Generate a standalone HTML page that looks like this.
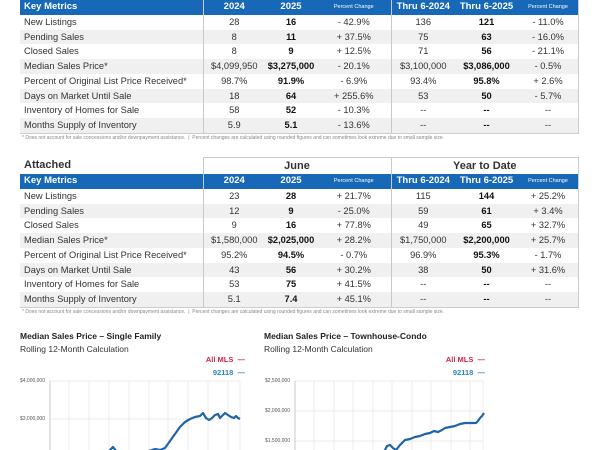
<!DOCTYPE html>
<html><head><style>
body{margin:0;width:600px;height:450px;background:#fff;font-family:"Liberation Sans",sans-serif;position:relative;overflow:hidden;color:#333}
table{position:absolute;left:20px;border-collapse:collapse;table-layout:fixed;width:558px}
td{height:14.7px;padding:0;font-size:9.3px;text-align:center;white-space:nowrap;line-height:14.7px}
td:first-child{text-align:left;padding-left:4px}
tr.h td{background:#1768b6;color:#fff;font-weight:bold;font-size:9.5px;height:15px}
tr.h td.p{font-size:5.5px;font-weight:normal}
tr.s td{background:#f0f0f0}
td.d{border-left:1px solid #c8c8c8}
td.b{font-weight:bold;color:#111}
tr.t td{font-weight:bold;font-size:11px;color:#333;height:16px}
.fn{position:absolute;left:22px;font-size:5px;color:#888;white-space:nowrap}
.bx{position:absolute;border-right:1px solid #ccc;border-bottom:1px solid #ccc}
.ct{position:absolute;font-size:8.5px;font-weight:bold;color:#222;white-space:nowrap}
.cs{position:absolute;font-size:8.5px;color:#333;white-space:nowrap}
.lg{position:absolute;font-size:7.5px;font-weight:bold;text-align:right;white-space:nowrap}
.yl{position:absolute;font-size:5px;color:#555;text-align:right;width:50px}
</style></head><body>
<table style="top:0">
<colgroup><col style="width:183px"><col style="width:62px"><col style="width:52px"><col style="width:74px"><col style="width:64px"><col style="width:63px"><col style="width:60px"></colgroup>
<tr class="h"><td>Key Metrics</td><td class="d">2024</td><td>2025</td><td class="p">Percent Change</td><td class="d">Thru 6-2024</td><td>Thru 6-2025</td><td class="p">Percent Change</td></tr>
<tr><td>New Listings</td><td class="d">28</td><td class="b">16</td><td>- 42.9%</td><td class="d">136</td><td class="b">121</td><td>- 11.0%</td></tr>
<tr class="s"><td>Pending Sales</td><td class="d">8</td><td class="b">11</td><td>+ 37.5%</td><td class="d">75</td><td class="b">63</td><td>- 16.0%</td></tr>
<tr><td>Closed Sales</td><td class="d">8</td><td class="b">9</td><td>+ 12.5%</td><td class="d">71</td><td class="b">56</td><td>- 21.1%</td></tr>
<tr class="s"><td>Median Sales Price*</td><td class="d">$4,099,950</td><td class="b">$3,275,000</td><td>- 20.1%</td><td class="d">$3,100,000</td><td class="b">$3,086,000</td><td>- 0.5%</td></tr>
<tr><td>Percent of Original List Price Received*</td><td class="d">98.7%</td><td class="b">91.9%</td><td>- 6.9%</td><td class="d">93.4%</td><td class="b">95.8%</td><td>+ 2.6%</td></tr>
<tr class="s"><td>Days on Market Until Sale</td><td class="d">18</td><td class="b">64</td><td>+ 255.6%</td><td class="d">53</td><td class="b">50</td><td>- 5.7%</td></tr>
<tr><td>Inventory of Homes for Sale</td><td class="d">58</td><td class="b">52</td><td>- 10.3%</td><td class="d">--</td><td class="b">--</td><td>--</td></tr>
<tr class="s"><td>Months Supply of Inventory</td><td class="d">5.9</td><td class="b">5.1</td><td>- 13.6%</td><td class="d">--</td><td class="b">--</td><td>--</td></tr>
</table>
<div class="bx" style="left:20px;top:0;width:558px;height:133px;border-left:none"></div>
<div class="fn" style="top:135px">* Does not account for sale concessions and/or downpayment assistance. &nbsp;|&nbsp; Percent changes are calculated using rounded figures and can sometimes look extreme due to small sample size.</div>

<table style="top:157px">
<colgroup><col style="width:183px"><col style="width:62px"><col style="width:52px"><col style="width:74px"><col style="width:64px"><col style="width:63px"><col style="width:60px"></colgroup>
<tr class="t"><td>Attached</td><td class="d" colspan="3" style="border-top:1px solid #ccc">June</td><td class="d" colspan="3" style="border-top:1px solid #ccc">Year to Date</td></tr>
<tr class="h"><td>Key Metrics</td><td class="d">2024</td><td>2025</td><td class="p">Percent Change</td><td class="d">Thru 6-2024</td><td>Thru 6-2025</td><td class="p">Percent Change</td></tr>
<tr><td>New Listings</td><td class="d">23</td><td class="b">28</td><td>+ 21.7%</td><td class="d">115</td><td class="b">144</td><td>+ 25.2%</td></tr>
<tr class="s"><td>Pending Sales</td><td class="d">12</td><td class="b">9</td><td>- 25.0%</td><td class="d">59</td><td class="b">61</td><td>+ 3.4%</td></tr>
<tr><td>Closed Sales</td><td class="d">9</td><td class="b">16</td><td>+ 77.8%</td><td class="d">49</td><td class="b">65</td><td>+ 32.7%</td></tr>
<tr class="s"><td>Median Sales Price*</td><td class="d">$1,580,000</td><td class="b">$2,025,000</td><td>+ 28.2%</td><td class="d">$1,750,000</td><td class="b">$2,200,000</td><td>+ 25.7%</td></tr>
<tr><td>Percent of Original List Price Received*</td><td class="d">95.2%</td><td class="b">94.5%</td><td>- 0.7%</td><td class="d">96.9%</td><td class="b">95.3%</td><td>- 1.7%</td></tr>
<tr class="s"><td>Days on Market Until Sale</td><td class="d">43</td><td class="b">56</td><td>+ 30.2%</td><td class="d">38</td><td class="b">50</td><td>+ 31.6%</td></tr>
<tr><td>Inventory of Homes for Sale</td><td class="d">53</td><td class="b">75</td><td>+ 41.5%</td><td class="d">--</td><td class="b">--</td><td>--</td></tr>
<tr class="s"><td>Months Supply of Inventory</td><td class="d">5.1</td><td class="b">7.4</td><td>+ 45.1%</td><td class="d">--</td><td class="b">--</td><td>--</td></tr>
</table>
<div class="bx" style="left:20px;top:157px;width:558px;height:150px"></div>
<div class="fn" style="top:309px">* Does not account for sale concessions and/or downpayment assistance. &nbsp;|&nbsp; Percent changes are calculated using rounded figures and can sometimes look extreme due to small sample size.</div>

<div class="ct" style="left:20px;top:331px">Median Sales Price – Single Family</div>
<div class="cs" style="left:20px;top:344px">Rolling 12-Month Calculation</div>
<div class="lg" style="right:355px;top:355px;color:#d0264a">All MLS &nbsp;—</div>
<div class="lg" style="right:355px;top:368px;color:#2a86c0">92118 &nbsp;—</div>
<div class="yl" style="left:-5px;top:378px">$4,000,000</div>
<div class="yl" style="left:-5px;top:416px">$3,000,000</div>

<div class="ct" style="left:264px;top:331px">Median Sales Price – Townhouse-Condo</div>
<div class="cs" style="left:264px;top:344px">Rolling 12-Month Calculation</div>
<div class="lg" style="right:115px;top:355px;color:#d0264a">All MLS &nbsp;—</div>
<div class="lg" style="right:115px;top:368px;color:#2a86c0">92118 &nbsp;—</div>
<div class="yl" style="left:240px;top:378px">$2,500,000</div>
<div class="yl" style="left:240px;top:408px">$2,000,000</div>
<div class="yl" style="left:240px;top:438px">$1,500,000</div>

<svg width="600" height="450" style="position:absolute;left:0;top:0">
<g stroke="#e4e4e4" stroke-width="0.7">
<line x1="50" y1="381" x2="240" y2="381"/><line x1="50" y1="419" x2="240" y2="419"/>
<line x1="69" y1="381" x2="69" y2="450"/><line x1="89" y1="381" x2="89" y2="450"/><line x1="109" y1="381" x2="109" y2="450"/><line x1="129" y1="381" x2="129" y2="450"/><line x1="149" y1="381" x2="149" y2="450"/><line x1="168" y1="381" x2="168" y2="450"/><line x1="188" y1="381" x2="188" y2="450"/><line x1="208" y1="381" x2="208" y2="450"/><line x1="228" y1="381" x2="228" y2="450"/><line x1="240" y1="381" x2="240" y2="450"/>
<line x1="295" y1="381" x2="483" y2="381"/><line x1="295" y1="411" x2="483" y2="411"/><line x1="295" y1="441" x2="483" y2="441"/>
<line x1="314" y1="381" x2="314" y2="450"/><line x1="334" y1="381" x2="334" y2="450"/><line x1="353" y1="381" x2="353" y2="450"/><line x1="373" y1="381" x2="373" y2="450"/><line x1="392" y1="381" x2="392" y2="450"/><line x1="412" y1="381" x2="412" y2="450"/><line x1="431" y1="381" x2="431" y2="450"/><line x1="451" y1="381" x2="451" y2="450"/><line x1="470" y1="381" x2="470" y2="450"/><line x1="483" y1="381" x2="483" y2="450"/>
</g>
<line x1="50" y1="381" x2="50" y2="450" stroke="#bbb" stroke-width="0.8"/>
<line x1="295" y1="381" x2="295" y2="450" stroke="#bbb" stroke-width="0.8"/>
<g fill="none" stroke="#1f63a8" stroke-width="2.2" stroke-linejoin="round">
<polyline points="108,452 113,447 116,451 120,452 145,452 152,450 155,449 160,450 165,448 170,441 175,434 180,427 185,422 190,419 195,417 200,416 203,413 206,418 209,420 212,418 215,415 218,414 220,418 223,415 225,413 228,415 231,417 234,418 236,416 238,418 240,419"/>
<polyline points="384,452 387,446 390,445 393,448 396,450 400,445 405,440 410,439 415,437 420,436 425,434 430,433 434,431 438,432 442,430 445,428 450,427 455,426 460,424 465,423 470,423 476,423 478,421 480,418 482,416 484,413"/>
</g>
</svg>
</body></html>
